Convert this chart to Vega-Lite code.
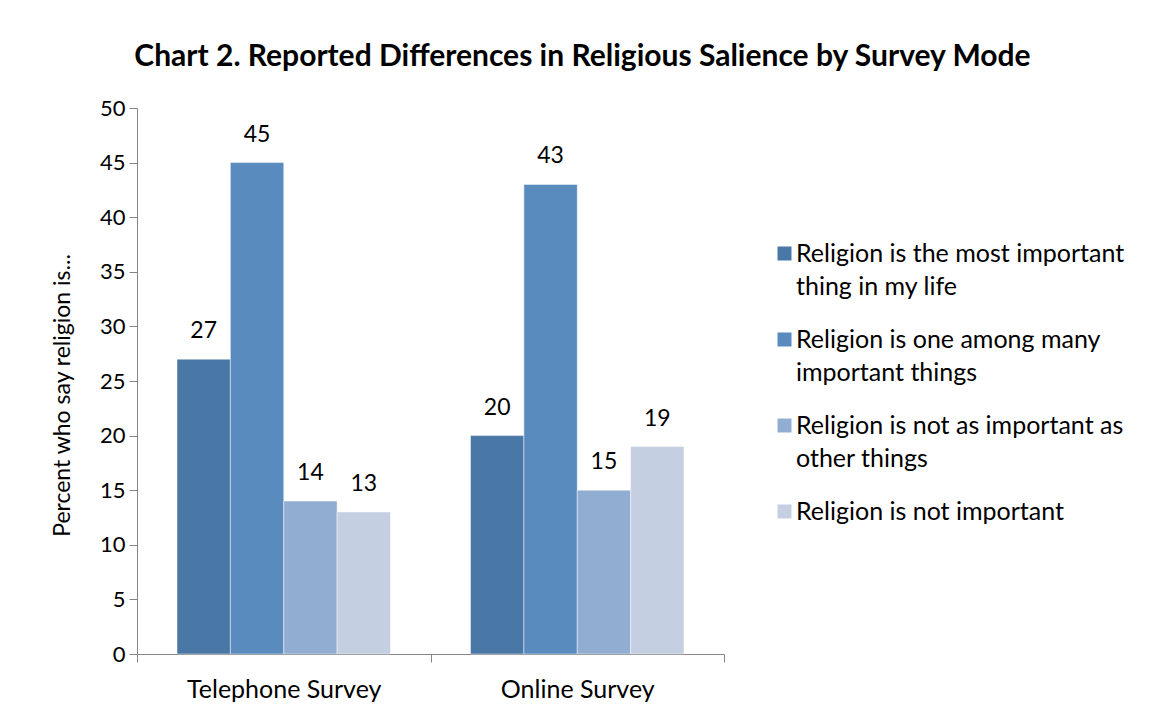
{
  "$schema": "https://vega.github.io/schema/vega-lite/v6.json",
  "autosize": {"type": "none"},
  "width": 587,
  "height": 546,
  "padding": {"left": 137, "top": 108, "right": 429, "bottom": 63},
  "background": "#ffffff",
  "title": {
    "text": "Chart 2. Reported Differences in Religious Salience by Survey Mode",
    "anchor": "middle",
    "frame": "group",
    "dx": 152,
    "offset": 25,
    "font": "Lato",
    "fontSize": 30,
    "fontWeight": "bold",
    "color": "#000000"
  },
  "data": {
    "values": [
      {"mode": "Telephone Survey", "response": "Religion is the most important thing in my life", "pct": 27},
      {"mode": "Telephone Survey", "response": "Religion is one among many important things", "pct": 45},
      {"mode": "Telephone Survey", "response": "Religion is not as important as other things", "pct": 14},
      {"mode": "Telephone Survey", "response": "Religion is not important", "pct": 13},
      {"mode": "Online Survey", "response": "Religion is the most important thing in my life", "pct": 20},
      {"mode": "Online Survey", "response": "Religion is one among many important things", "pct": 43},
      {"mode": "Online Survey", "response": "Religion is not as important as other things", "pct": 15},
      {"mode": "Online Survey", "response": "Religion is not important", "pct": 19}
    ]
  },
  "encoding": {
    "x": {
      "field": "mode",
      "type": "nominal",
      "sort": ["Telephone Survey", "Online Survey"],
      "scale": {"paddingInner": 0, "paddingOuter": 0},
      "axis": {
        "title": null,
        "labelAngle": 0,
        "tickBand": "extent",
        "labelFontSize": 25,
        "labelPadding": 15,
        "labelLimit": 400
      }
    },
    "xOffset": {
      "field": "response",
      "type": "nominal",
      "sort": [
        "Religion is the most important thing in my life",
        "Religion is one among many important things",
        "Religion is not as important as other things",
        "Religion is not important"
      ],
      "scale": {"paddingInner": 0, "paddingOuter": 0.75}
    },
    "y": {
      "field": "pct",
      "type": "quantitative",
      "scale": {"domain": [0, 50], "nice": false},
      "axis": {
        "title": "Percent who say religion is...",
        "values": [0, 5, 10, 15, 20, 25, 30, 35, 40, 45, 50],
        "labelFontSize": 22,
        "titleFontSize": 23,
        "titleFontWeight": "normal",
        "titlePadding": 25,
        "titleY": 287,
        "labelPadding": 4
      }
    }
  },
  "layer": [
    {
      "mark": {"type": "bar", "stroke": "#ffffff", "strokeOpacity": 0.45, "strokeWidth": 1},
      "encoding": {
        "color": {
          "field": "response",
          "type": "nominal",
          "sort": [
            "Religion is the most important thing in my life",
            "Religion is one among many important things",
            "Religion is not as important as other things",
            "Religion is not important"
          ],
          "scale": {"range": ["#4A78A6", "#598BBF", "#91AED2", "#C4CFE2"]},
          "legend": {
            "title": null,
            "orient": "none",
            "legendX": 635,
            "legendY": 133,
            "symbolType": "square",
            "symbolSize": 196,
            "symbolStrokeWidth": 0,
            "labelFontSize": 25,
            "labelFont": "Lato",
            "labelColor": "#000000",
            "labelLimit": 400,
            "labelOffset": -1,
            "rowPadding": 27,
            "labelExpr": "datum.label == 'Religion is the most important thing in my life' ? ['Religion is the most important', 'thing in my life'] : datum.label == 'Religion is one among many important things' ? ['Religion is one among many', 'important things'] : datum.label == 'Religion is not as important as other things' ? ['Religion is not as important as', 'other things'] : datum.label"
          }
        }
      }
    },
    {
      "mark": {"type": "text", "baseline": "bottom", "dy": -16, "fontSize": 23, "font": "Lato", "color": "#000000"},
      "encoding": {
        "text": {"field": "pct", "type": "quantitative"}
      }
    }
  ],
  "config": {
    "font": "Lato",
    "view": {"stroke": null},
    "style": {"guide-label": {"lineHeight": 33}},
    "axis": {
      "grid": false,
      "domainColor": "#868686",
      "tickColor": "#868686",
      "tickSize": 8,
      "labelColor": "#000000",
      "titleColor": "#000000",
      "labelFont": "Lato",
      "titleFont": "Lato"
    }
  }
}
